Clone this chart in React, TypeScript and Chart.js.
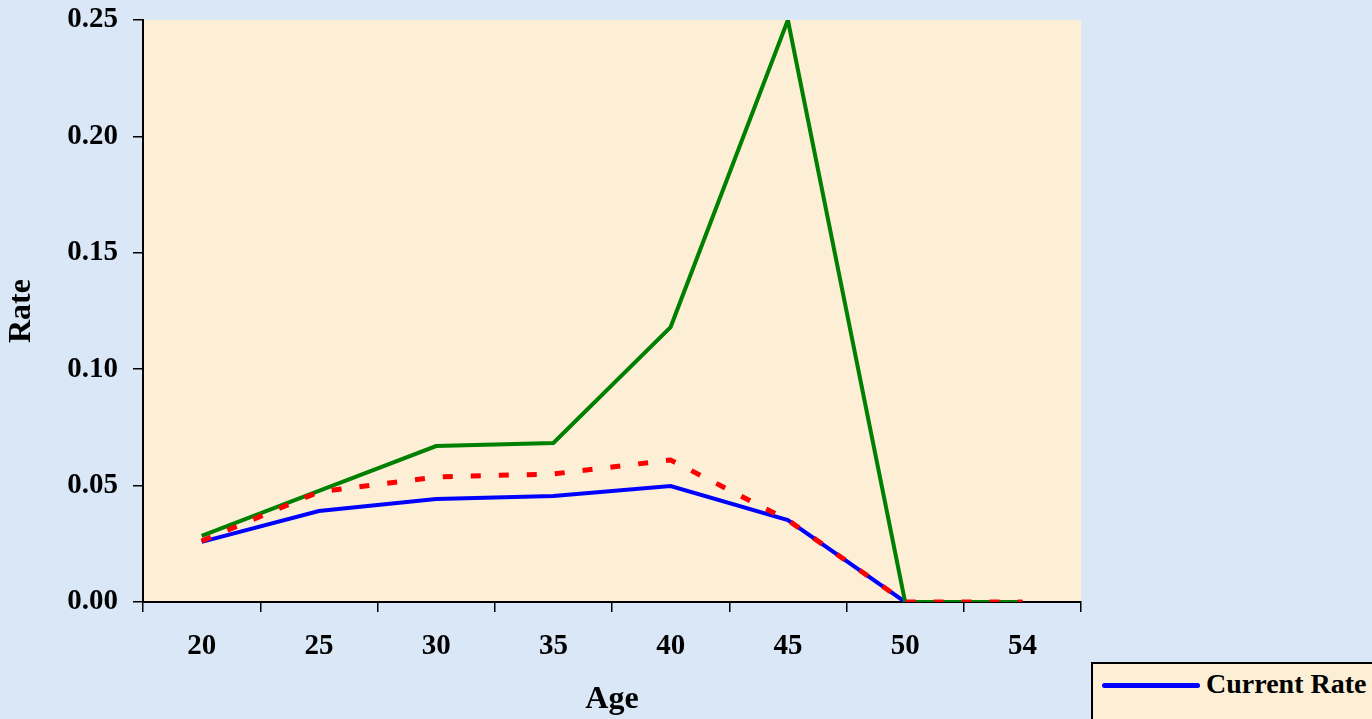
import React, { useEffect, useRef } from "react";
import { Chart, registerables } from "chart.js";

Chart.register(...registerables);

const ages = ["20", "25", "30", "35", "40", "45", "50", "54"];
const currentRate = [0.0258, 0.0391, 0.0442, 0.0455, 0.0498, 0.0352, 0, 0];
const greenRate = [0.0284, 0.0477, 0.067, 0.0683, 0.1181, 0.25, 0, 0];
const redRate = [0.0262, 0.0473, 0.0537, 0.055, 0.061, 0.0352, 0, 0];
const yTicks = [0, 0.05, 0.1, 0.15, 0.2, 0.25];

const FONT = "'Liberation Serif', 'Times New Roman', serif";

const bgPlugin = {
  id: "bgPlugin",
  beforeDraw(chart: any) {
    const { ctx, chartArea, width, height } = chart;
    ctx.save();
    ctx.fillStyle = "#dae7f7";
    ctx.fillRect(0, 0, width, height);
    ctx.fillStyle = "#fcefd6";
    ctx.fillRect(chartArea.left, chartArea.top, chartArea.right - chartArea.left, chartArea.bottom - chartArea.top);
    ctx.restore();
  },
};

export default function App() {
  const ref = useRef<HTMLCanvasElement>(null);
  useEffect(() => {
    if (!ref.current) return;
    const chart = new Chart(ref.current, {
      type: "line",
      data: {
        labels: ages,
        datasets: [
          {
            label: "Current Rate",
            data: currentRate,
            borderColor: "#0000ff",
            backgroundColor: "#0000ff",
            borderWidth: 4,
            pointRadius: 0,
            tension: 0,
            order: 2,
          },
          {
            label: "Rate 2",
            data: greenRate,
            borderColor: "#008000",
            backgroundColor: "#008000",
            borderWidth: 4,
            pointRadius: 0,
            tension: 0,
            order: 1,
          },
          {
            label: "Rate 3",
            data: redRate,
            borderColor: "#ff0000",
            backgroundColor: "#ff0000",
            borderWidth: 5,
            borderDash: [10, 18],
            borderCapStyle: "butt",
            pointRadius: 0,
            tension: 0,
            order: 0,
          },
        ],
      },
      options: {
        animation: false,
        responsive: false,
        layout: { padding: { top: 20, right: 291, bottom: 0, left: 0 } },
        plugins: { legend: { display: false }, tooltip: { enabled: false } },
        scales: {
          x: {
            type: "category",
            offset: true,
            grid: {
              offset: true,
              drawOnChartArea: false,
              drawTicks: true,
              tickLength: 10,
              color: "#000",
              lineWidth: 1.5,
            },
            border: { display: true, color: "#000", width: 2 },
            ticks: {
              autoSkip: false,
              maxRotation: 0,
              padding: 17,
              color: "#000",
              font: { family: FONT, size: 29, weight: "bold" },
            },
            title: {
              display: true,
              text: "Age",
              color: "#000",
              padding: { top: 0, bottom: 0 },
              font: { family: FONT, size: 32, weight: "bold" },
            },
            afterFit(scale: any) {
              scale.height = 117;
              scale.paddingLeft = 0;
              scale.paddingRight = 0;
            },
          },
          y: {
            min: 0,
            max: 0.25,
            afterBuildTicks(scale: any) {
              scale.ticks = yTicks.map((v) => ({ value: v }));
            },
            grid: {
              drawOnChartArea: false,
              drawTicks: true,
              tickLength: 10,
              color: "#000",
              lineWidth: 1.5,
            },
            border: { display: true, color: "#000", width: 2 },
            ticks: {
              padding: 15,
              color: "#000",
              font: { family: FONT, size: 29, weight: "bold" },
              callback: (v: any) => Number(v).toFixed(2),
            },
            title: {
              display: true,
              text: "Rate",
              color: "#000",
              padding: { top: 3, bottom: 0 },
              font: { family: FONT, size: 32, weight: "bold" },
            },
            afterFit(scale: any) {
              scale.width = 143;
              scale.paddingTop = 0;
              scale.paddingBottom = 0;
            },
          },
        },
      },
      plugins: [bgPlugin],
    });
    return () => chart.destroy();
  }, []);

  return (
    <div
      style={{
        position: "absolute",
        left: 0,
        top: 0,
        width: 1372,
        height: 719,
        overflow: "hidden",
      }}
    >
      <canvas ref={ref} width={1372} height={719} style={{ display: "block" }} />
      <div
        style={{
          position: "absolute",
          left: 1091,
          top: 662,
          width: 320,
          height: 120,
          border: "2px solid #000",
          background: "#fcefd6",
          boxSizing: "border-box",
        }}
      >
        <div
          style={{
            position: "absolute",
            left: 9,
            top: 19,
            width: 98,
            height: 5,
            borderRadius: 3,
            background: "#0000ff",
          }}
        />
        <div
          style={{
            position: "absolute",
            left: 113,
            top: 4,
            fontFamily: FONT,
            fontWeight: "bold",
            fontSize: 28,
            lineHeight: "32px",
            color: "#000",
            whiteSpace: "nowrap",
          }}
        >
          Current Rate
        </div>
      </div>
    </div>
  );
}
